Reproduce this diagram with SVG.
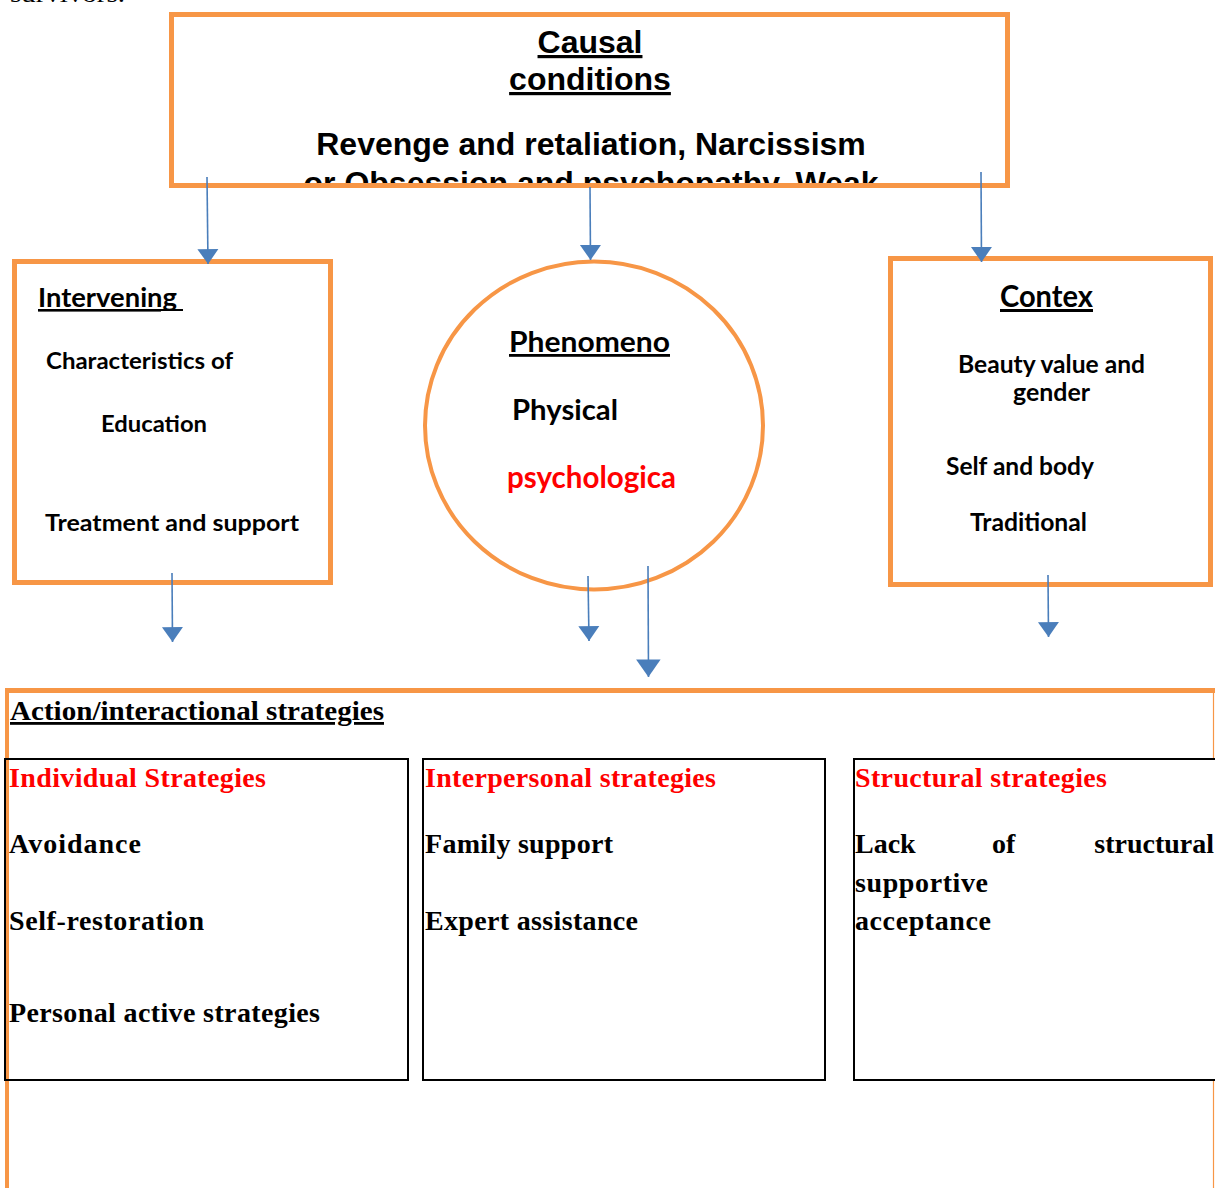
<svg xmlns="http://www.w3.org/2000/svg" width="1215" height="1188" viewBox="0 0 1215 1188">
<defs>
<style>
.ob{fill:none;stroke:#F79646;stroke-width:5}
.cell{fill:none;stroke:#000;stroke-width:2}
.ar1{stroke:#4A7EBB;stroke-width:1.6;fill:none;marker-end:url(#ah)}
.ar2{stroke:#4A7EBB;stroke-width:1.6;fill:none;marker-end:url(#ahb)}
.arial{font-family:"Liberation Sans",Arial,sans-serif;font-weight:bold;fill:#000}
.cal{font-family:Lato,"Open Sans",sans-serif;font-weight:bold;fill:#000}
.tm{font-family:"Liberation Serif","Times New Roman",serif;font-weight:bold;fill:#000}
.red{fill:#FF0000}
</style>
<marker id="ah" markerWidth="10" markerHeight="10" viewBox="0 0 10 10" refX="10" refY="5" orient="auto" markerUnits="userSpaceOnUse" style="overflow:visible">
<path d="M0,-2 L10,5 L0,12 Z" fill="#4A7EBB" transform="scale(1.5) translate(-3.3,-1.7)"/>
</marker>
<marker id="ahb" markerWidth="10" markerHeight="10" viewBox="0 0 10 10" refX="10" refY="5" orient="auto" markerUnits="userSpaceOnUse" style="overflow:visible">
<path d="M0,-2 L10,5 L0,12 Z" fill="#4A7EBB" transform="scale(1.75) translate(-4.3,-2.1)"/>
</marker>
<clipPath id="topclip"><rect x="171" y="14" width="837" height="171"/></clipPath>
</defs>

<text x="10" y="2" font-size="24" textLength="115" lengthAdjust="spacingAndGlyphs" style="font-family:'Liberation Serif',serif;fill:#000">survivors.</text>

<g id="causal">
<g clip-path="url(#topclip)">
<text class="arial" x="590" y="53" text-anchor="middle" font-size="32" text-decoration="underline">Causal </text>
<text class="arial" x="590" y="90" text-anchor="middle" font-size="32" text-decoration="underline">conditions</text>
<text class="arial" x="591" y="155" text-anchor="middle" font-size="32">Revenge and retaliation, Narcissism</text>
<text class="arial" x="591" y="194" text-anchor="middle" font-size="32">or Obsession and psychopathy, Weak</text>
</g>
<rect class="ob" x="171.5" y="14.5" width="836" height="171"/>
</g>

<g id="intervening">
<rect class="ob" x="14.5" y="261.5" width="316" height="321"/>
<text class="cal" x="38" y="307" font-size="26" textLength="139" lengthAdjust="spacingAndGlyphs" text-decoration="underline">Intervening</text>
<line x1="38" y1="310" x2="183" y2="310" stroke="#000" stroke-width="2"/>
<text class="cal" x="46" y="369" font-size="23" textLength="187" lengthAdjust="spacingAndGlyphs">Characteristics of</text>
<text class="cal" x="101" y="432" font-size="23" textLength="106" lengthAdjust="spacingAndGlyphs">Education</text>
<text class="cal" x="45" y="531" font-size="23" textLength="254" lengthAdjust="spacingAndGlyphs">Treatment and support</text>
</g>

<g id="phenomenon">
<ellipse cx="594" cy="425.5" rx="169" ry="164" fill="none" stroke="#F79646" stroke-width="4"/>
<text class="cal" x="509" y="352" font-size="28" textLength="161" lengthAdjust="spacingAndGlyphs" text-decoration="underline">Phenomeno</text>
<text class="cal" x="512" y="420" font-size="28" textLength="106" lengthAdjust="spacingAndGlyphs">Physical</text>
<text class="cal red" x="507" y="488" font-size="30" textLength="169" lengthAdjust="spacingAndGlyphs">psychologica</text>
</g>

<g id="context">
<rect class="ob" x="890.5" y="258.5" width="320" height="326"/>
<text class="cal" x="1000" y="307" font-size="30" textLength="93" lengthAdjust="spacingAndGlyphs" text-decoration="underline">Contex</text>
<text class="cal" x="958" y="373" font-size="24" textLength="187" lengthAdjust="spacingAndGlyphs">Beauty value and</text>
<text class="cal" x="1013" y="401" font-size="24" textLength="77" lengthAdjust="spacingAndGlyphs">gender</text>
<text class="cal" x="946" y="475" font-size="24" textLength="148" lengthAdjust="spacingAndGlyphs">Self and body</text>
<text class="cal" x="970" y="531" font-size="24" textLength="117" lengthAdjust="spacingAndGlyphs">Traditional</text>
</g>

<g id="strategies">
<line x1="5" y1="690.5" x2="1215" y2="690.5" stroke="#F79646" stroke-width="5"/>
<line x1="7" y1="688" x2="7" y2="1188" stroke="#F79646" stroke-width="4"/>
<line x1="1213.5" y1="690" x2="1213.5" y2="758" stroke="#F79646" stroke-width="1.2"/>
<line x1="1213.5" y1="1080" x2="1213.5" y2="1188" stroke="#F79646" stroke-width="1.2"/>
<text class="tm" x="10" y="720" font-size="28" textLength="374" lengthAdjust="spacingAndGlyphs" text-decoration="underline">Action/interactional strategies</text>
</g>

<g id="individual">
<rect class="cell" x="5" y="759" width="403" height="321"/>
<text class="tm red" x="9" y="787" font-size="28" textLength="257">Individual Strategies</text>
<text class="tm" x="9" y="853" font-size="28" textLength="132">Avoidance</text>
<text class="tm" x="9" y="930" font-size="28" textLength="195">Self-restoration</text>
<text class="tm" x="9" y="1022" font-size="28" textLength="311">Personal active strategies</text>
</g>

<g id="interpersonal">
<rect class="cell" x="423" y="759" width="402" height="321"/>
<text class="tm red" x="425" y="787" font-size="28" textLength="291">Interpersonal strategies</text>
<text class="tm" x="425" y="853" font-size="28" textLength="188">Family support</text>
<text class="tm" x="425" y="930" font-size="28" textLength="213">Expert assistance</text>
</g>

<g id="structural">
<path class="cell" d="M1215,759 H854 V1080 H1215"/>
<text class="tm red" x="855" y="787" font-size="28" textLength="252">Structural strategies</text>
<text class="tm" x="855" y="853" font-size="28">Lack</text>
<text class="tm" x="992" y="853" font-size="28">of</text>
<text class="tm" x="1214" y="853" font-size="28" text-anchor="end">structural</text>
<text class="tm" x="855" y="892" font-size="28" textLength="133">supportive</text>
<text class="tm" x="855" y="930" font-size="28" textLength="136">acceptance</text>
</g>

<g id="connectors">
<line class="ar1" x1="207" y1="177" x2="208" y2="264"/>
<line class="ar1" x1="590" y1="187" x2="590.5" y2="260"/>
<line class="ar1" x1="981" y1="172" x2="981.5" y2="262"/>
<line class="ar1" x1="172" y1="573" x2="172.5" y2="642"/>
<line class="ar1" x1="588" y1="576" x2="589" y2="641"/>
<line class="ar2" x1="648" y1="566" x2="648.5" y2="677"/>
<line class="ar1" x1="1048" y1="575" x2="1048.5" y2="637"/>
</g>
</svg>
